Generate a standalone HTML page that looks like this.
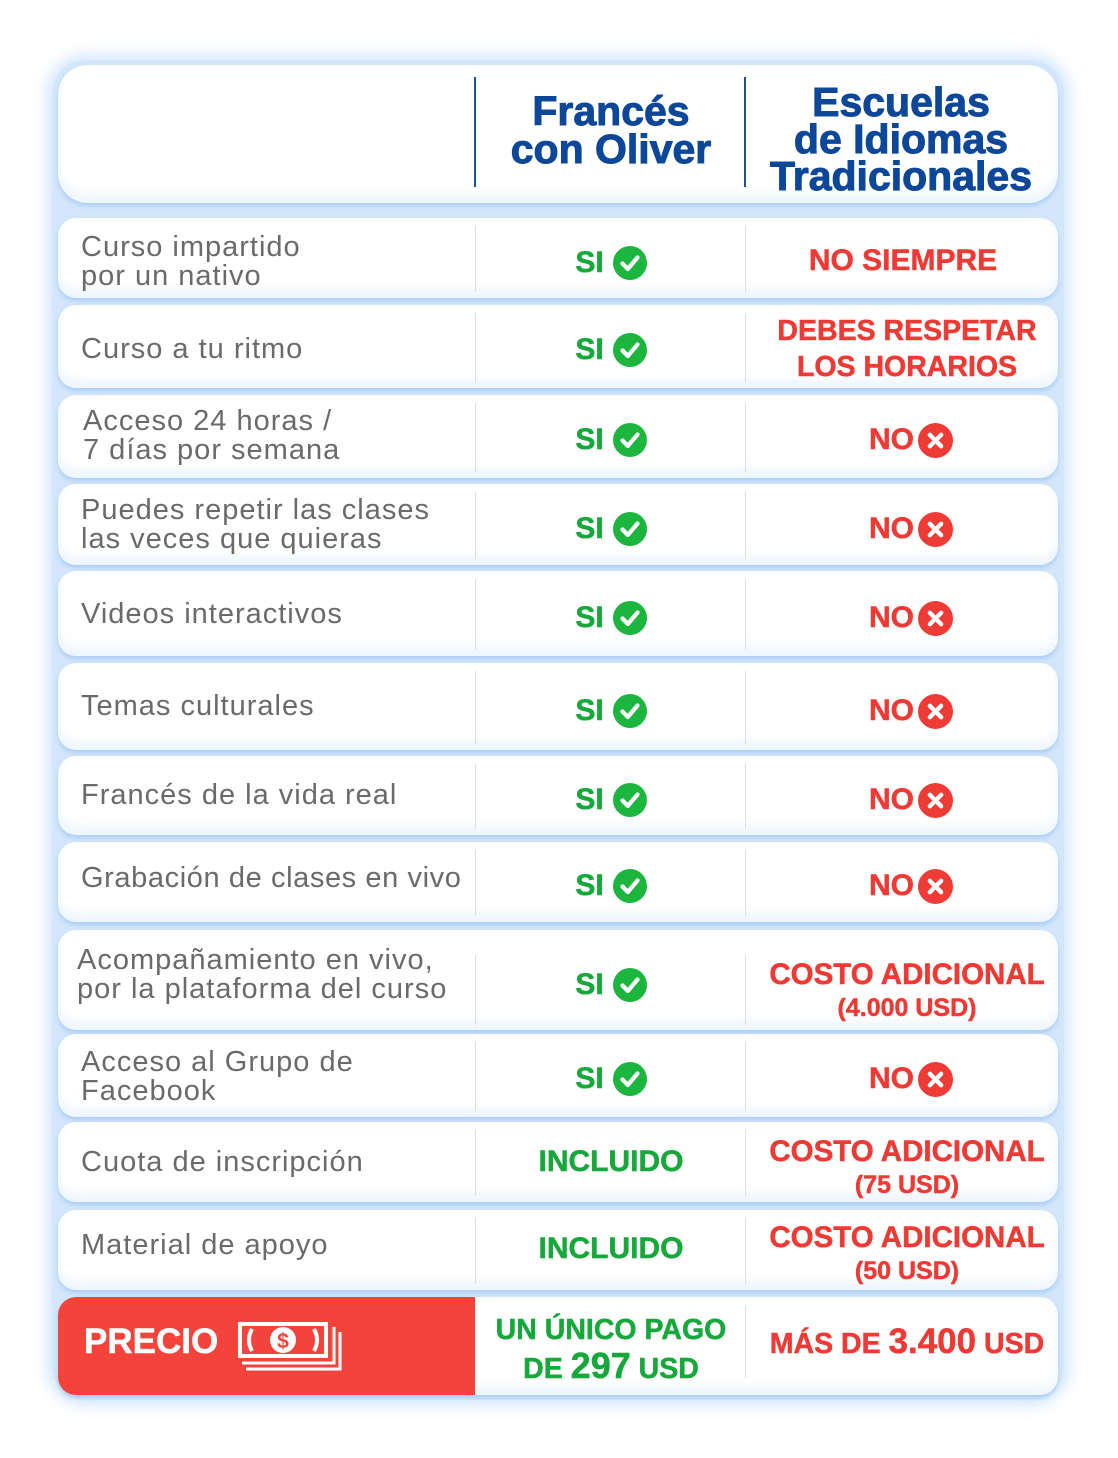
<!DOCTYPE html>
<html><head><meta charset="utf-8">
<style>
html,body{margin:0;padding:0}
body{width:1118px;height:1458px;overflow:hidden;background:#fff;position:relative;font-family:"Liberation Sans",sans-serif}
.glow{position:absolute;left:46px;top:54px;width:1024px;height:1352px;background:#d5e8fc;border-radius:40px;filter:blur(7px)}
.glow2{position:absolute;left:52px;top:60px;width:1012px;height:1340px;background:#d3e6fb;border-radius:34px}
.card{position:absolute;left:58px;width:1000px;background:#fff;border-radius:18px;box-shadow:0 3px 4px rgba(140,185,240,.55), inset 0 -8px 10px rgba(215,232,252,.45)}
.hdr{border-radius:30px}
.div{position:absolute;width:1px;background:#dedede}
.hdiv{position:absolute;width:2px;background:#1d4f9c}
.lbl{position:absolute;left:81px;font-size:29px;line-height:29px;letter-spacing:1px;color:#6a6a6a;white-space:nowrap}
.c{position:absolute;height:40px;display:flex;align-items:center;justify-content:center;white-space:nowrap;font-weight:bold}
.mid{left:475px;width:272px}
.rt{left:748px;width:318px}
.g{color:#16a83a;font-size:30px;line-height:1;-webkit-text-stroke:0.5px #16a83a}
.r{color:#ee3a35;font-size:30px;line-height:1;-webkit-text-stroke:0.5px #ee3a35}
.ic{margin-left:9px;display:block}
.h{position:absolute;color:#0c4799;font-weight:bold;font-size:41px;text-align:center;white-space:nowrap;-webkit-text-stroke:1px #0c4799}
</style></head><body>
<div class="glow"></div>
<div class="glow2"></div>

<!-- header -->
<div class="card hdr" style="top:65px;height:138px"></div>
<div class="hdiv" style="left:474px;top:77px;height:110px"></div>
<div class="hdiv" style="left:744px;top:77px;height:110px"></div>
<div class="h" style="left:475px;width:272px;top:92px;line-height:38px">Francés<br>con Oliver</div>
<div class="h" style="left:748px;width:306px;top:84px;line-height:37px">Escuelas<br>de Idiomas<br>Tradicionales</div>

<!-- row cards -->
<div class="card" style="top:218px;height:80px"></div>
<div class="card" style="top:305px;height:83px"></div>
<div class="card" style="top:395px;height:83px"></div>
<div class="card" style="top:484px;height:81px"></div>
<div class="card" style="top:571px;height:85px"></div>
<div class="card" style="top:663px;height:87px"></div>
<div class="card" style="top:756px;height:79px"></div>
<div class="card" style="top:842px;height:80px"></div>
<div class="card" style="top:930px;height:100px"></div>
<div class="card" style="top:1034px;height:83px"></div>
<div class="card" style="top:1122px;height:80px"></div>
<div class="card" style="top:1210px;height:80px"></div>
<div class="card" style="top:1297px;height:98px;overflow:hidden"><div style="position:absolute;left:0;top:0;width:417px;height:98px;background:#f4433a"></div></div>

<!-- dividers -->
<div class="div" style="left:475px;top:226px;height:66px"></div><div class="div" style="left:745px;top:226px;height:66px"></div>
<div class="div" style="left:475px;top:313px;height:69px"></div><div class="div" style="left:745px;top:313px;height:69px"></div>
<div class="div" style="left:475px;top:403px;height:69px"></div><div class="div" style="left:745px;top:403px;height:69px"></div>
<div class="div" style="left:475px;top:492px;height:67px"></div><div class="div" style="left:745px;top:492px;height:67px"></div>
<div class="div" style="left:475px;top:579px;height:71px"></div><div class="div" style="left:745px;top:579px;height:71px"></div>
<div class="div" style="left:475px;top:671px;height:73px"></div><div class="div" style="left:745px;top:671px;height:73px"></div>
<div class="div" style="left:475px;top:764px;height:65px"></div><div class="div" style="left:745px;top:764px;height:65px"></div>
<div class="div" style="left:475px;top:850px;height:66px"></div><div class="div" style="left:745px;top:850px;height:66px"></div>
<div class="div" style="left:475px;top:955px;height:70px"></div><div class="div" style="left:745px;top:955px;height:70px"></div>
<div class="div" style="left:475px;top:1042px;height:69px"></div><div class="div" style="left:745px;top:1042px;height:69px"></div>
<div class="div" style="left:475px;top:1130px;height:66px"></div><div class="div" style="left:745px;top:1130px;height:66px"></div>
<div class="div" style="left:475px;top:1218px;height:66px"></div><div class="div" style="left:745px;top:1218px;height:66px"></div>
<div class="div" style="left:745px;top:1305px;height:73px"></div>

<!-- labels -->
<div class="lbl" style="top:233px">Curso impartido<br>por un nativo</div>
<div class="lbl" style="top:335px">Curso a tu ritmo</div>
<div class="lbl" style="top:407px;left:83px">Acceso 24 horas /<br>7 días por semana</div>
<div class="lbl" style="top:496px">Puedes repetir las clases<br>las veces que quieras</div>
<div class="lbl" style="top:600px">Videos interactivos</div>
<div class="lbl" style="top:692px">Temas culturales</div>
<div class="lbl" style="top:781px">Francés de la vida real</div>
<div class="lbl" style="top:864px;letter-spacing:0.6px">Grabación de clases en vivo</div>
<div class="lbl" style="top:946px;left:77px;letter-spacing:1px">Acompañamiento en vivo,<br>por la plataforma del curso</div>
<div class="lbl" style="top:1048px">Acceso al Grupo de<br>Facebook</div>
<div class="lbl" style="top:1148px">Cuota de inscripción</div>
<div class="lbl" style="top:1231px">Material de apoyo</div>

<svg width="0" height="0" style="position:absolute">
<defs>
<symbol id="chk" viewBox="0 0 34 34"><circle cx="17" cy="17" r="17" fill="#1cb63f"/><path d="M9.5 17.5 L14.8 23 L24.5 11.5" fill="none" stroke="#fff" stroke-width="4.2" stroke-linecap="round" stroke-linejoin="round"/></symbol>
<symbol id="xx" viewBox="0 0 34 34"><circle cx="17" cy="17" r="17" fill="#ef3b36"/><path d="M11.5 11.5 L22.5 22.5 M22.5 11.5 L11.5 22.5" fill="none" stroke="#fff" stroke-width="4.2" stroke-linecap="round"/></symbol>
</defs></svg>

<!-- middle column SI -->
<div class="c mid" style="top:243px"><span class="g">SI</span><svg class="ic" width="34" height="34"><use href="#chk"/></svg></div>
<div class="c mid" style="top:330px"><span class="g">SI</span><svg class="ic" width="34" height="34"><use href="#chk"/></svg></div>
<div class="c mid" style="top:420px"><span class="g">SI</span><svg class="ic" width="34" height="34"><use href="#chk"/></svg></div>
<div class="c mid" style="top:509px"><span class="g">SI</span><svg class="ic" width="34" height="34"><use href="#chk"/></svg></div>
<div class="c mid" style="top:598px"><span class="g">SI</span><svg class="ic" width="34" height="34"><use href="#chk"/></svg></div>
<div class="c mid" style="top:691px"><span class="g">SI</span><svg class="ic" width="34" height="34"><use href="#chk"/></svg></div>
<div class="c mid" style="top:780px"><span class="g">SI</span><svg class="ic" width="34" height="34"><use href="#chk"/></svg></div>
<div class="c mid" style="top:866px"><span class="g">SI</span><svg class="ic" width="34" height="34"><use href="#chk"/></svg></div>
<div class="c mid" style="top:965px"><span class="g">SI</span><svg class="ic" width="34" height="34"><use href="#chk"/></svg></div>
<div class="c mid" style="top:1059px"><span class="g">SI</span><svg class="ic" width="34" height="34"><use href="#chk"/></svg></div>
<div class="c mid" style="top:1142px"><span class="g">INCLUIDO</span></div>
<div class="c mid" style="top:1229px"><span class="g">INCLUIDO</span></div>

<!-- right column -->
<div class="c rt" style="top:241px;left:744px"><span class="r">NO SIEMPRE</span></div>
<div class="c rt" style="top:311px"><span class="r" style="font-size:28.5px">DEBES RESPETAR</span></div>
<div class="c rt" style="top:347px"><span class="r" style="font-size:28.5px">LOS HORARIOS</span></div>
<div class="c rt" style="top:420px;left:752px"><span class="r">NO</span><svg class="ic" width="35" height="35" style="margin-left:4px"><use href="#xx"/></svg></div>
<div class="c rt" style="top:509px;left:752px"><span class="r">NO</span><svg class="ic" width="35" height="35" style="margin-left:4px"><use href="#xx"/></svg></div>
<div class="c rt" style="top:598px;left:752px"><span class="r">NO</span><svg class="ic" width="35" height="35" style="margin-left:4px"><use href="#xx"/></svg></div>
<div class="c rt" style="top:691px;left:752px"><span class="r">NO</span><svg class="ic" width="35" height="35" style="margin-left:4px"><use href="#xx"/></svg></div>
<div class="c rt" style="top:780px;left:752px"><span class="r">NO</span><svg class="ic" width="35" height="35" style="margin-left:4px"><use href="#xx"/></svg></div>
<div class="c rt" style="top:866px;left:752px"><span class="r">NO</span><svg class="ic" width="35" height="35" style="margin-left:4px"><use href="#xx"/></svg></div>
<div class="c rt" style="top:955px"><span class="r" style="font-size:29.5px">COSTO ADICIONAL</span></div>
<div class="c rt" style="top:988px"><span class="r" style="font-size:25px">(4.000 USD)</span></div>
<div class="c rt" style="top:1059px;left:752px"><span class="r">NO</span><svg class="ic" width="35" height="35" style="margin-left:4px"><use href="#xx"/></svg></div>
<div class="c rt" style="top:1132px"><span class="r" style="font-size:29.5px">COSTO ADICIONAL</span></div>
<div class="c rt" style="top:1165px"><span class="r" style="font-size:25px">(75 USD)</span></div>
<div class="c rt" style="top:1218px"><span class="r" style="font-size:29.5px">COSTO ADICIONAL</span></div>
<div class="c rt" style="top:1251px"><span class="r" style="font-size:25px">(50 USD)</span></div>

<!-- price row -->
<div class="c" style="left:84px;top:1321px;height:40px;justify-content:flex-start"><span style="color:#fff;font-size:35px;line-height:1;-webkit-text-stroke:0.5px #fff">PRECIO</span></div>
<svg style="position:absolute;left:230px;top:1315px" width="120" height="62" viewBox="230 1315 120 62">
  <polyline points="242,1363 334,1363 334,1327" fill="none" stroke="#fff" stroke-width="3"/>
  <polyline points="246,1369 340,1369 340,1332" fill="none" stroke="#fff" stroke-width="3"/>
  <rect x="238" y="1322" width="90" height="36" fill="#fff"/>
  <rect x="242" y="1326" width="82" height="28" fill="#f4433a"/>
  <path d="M252 1329 Q246 1340 252 1351" fill="none" stroke="#fff" stroke-width="4"/>
  <path d="M314 1329 Q320 1340 314 1351" fill="none" stroke="#fff" stroke-width="4"/>
  <circle cx="283" cy="1340" r="13" fill="#fff"/>
  <text x="283" y="1348" text-anchor="middle" font-family="Liberation Sans" font-weight="bold" font-size="21" fill="#f4433a">$</text>
</svg>
<div class="c mid" style="top:1310px"><span class="g" style="font-size:28.5px">UN ÚNICO PAGO</span></div>
<div class="c mid" style="top:1346px"><span class="g" style="font-size:28.5px">DE <span style="font-size:36px">297</span> USD</span></div>
<div class="c rt" style="top:1321px;left:748px"><span class="r" style="font-size:28.5px">MÁS DE <span style="font-size:35px">3.400</span> USD</span></div>

</body></html>
